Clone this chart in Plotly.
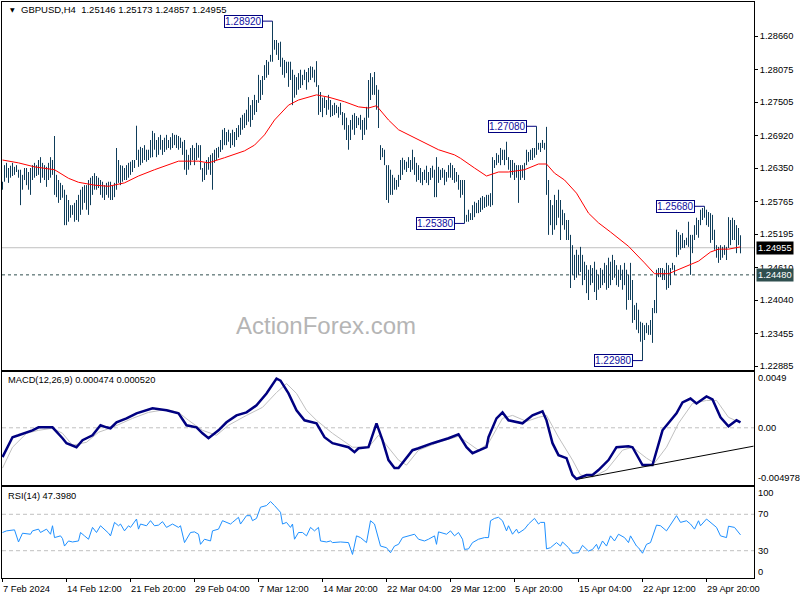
import plotly.graph_objects as go

# ---------------- data ----------------
symbol_title = "GBPUSD,H4  1.25146 1.25173 1.24857 1.24955"
last_bid = 1.24955
level_line = 1.24480

bar_high = [
    1.2611, 1.2640, 1.2644, 1.2635, 1.2639, 1.2644, 1.2637, 1.2640, 1.2632, 1.2632,
    1.2623, 1.2635, 1.2635, 1.2628, 1.2635, 1.2640, 1.2644, 1.2640, 1.2649, 1.2654,
    1.2644, 1.2640, 1.2637, 1.2644, 1.2654, 1.2649, 1.2691, 1.2623, 1.2614, 1.2609,
    1.2605, 1.2597, 1.2588, 1.2579, 1.2570, 1.2570, 1.2574, 1.2579, 1.2588, 1.2597,
    1.2602, 1.2605, 1.2605, 1.2614, 1.2618, 1.2621, 1.2626, 1.2621, 1.2618, 1.2614,
    1.2611, 1.2605, 1.2609, 1.2611, 1.2611, 1.2604, 1.2609, 1.2670, 1.2649, 1.2640,
    1.2639, 1.2635, 1.2640, 1.2644, 1.2646, 1.2649, 1.2649, 1.2709, 1.2667, 1.2672,
    1.2670, 1.2675, 1.2667, 1.2667, 1.2684, 1.2700, 1.2696, 1.2684, 1.2689, 1.2693,
    1.2684, 1.2688, 1.2693, 1.2684, 1.2689, 1.2696, 1.2693, 1.2693, 1.2691, 1.2688,
    1.2681, 1.2684, 1.2667, 1.2658, 1.2670, 1.2675, 1.2670, 1.2679, 1.2675, 1.2675,
    1.2635, 1.2644, 1.2649, 1.2654, 1.2658, 1.2661, 1.2667, 1.2670, 1.2672, 1.2684,
    1.2702, 1.2705, 1.2698, 1.2702, 1.2696, 1.2702, 1.2698, 1.2705, 1.2710, 1.2723,
    1.2728, 1.2731, 1.2737, 1.2759, 1.2745, 1.2754, 1.2763, 1.2754, 1.2798, 1.2789,
    1.2796, 1.2815, 1.2824, 1.2821, 1.2833, 1.2892, 1.2859, 1.2859, 1.2854, 1.2856,
    1.2828, 1.2824, 1.2821, 1.2821, 1.2821, 1.2807, 1.2798, 1.2794, 1.2801, 1.2807,
    1.2798, 1.2807, 1.2803, 1.2810, 1.2813, 1.2812, 1.2807, 1.2822, 1.2780, 1.2768,
    1.2758, 1.2759, 1.2754, 1.2763, 1.2754, 1.2745, 1.2749, 1.2745, 1.2742, 1.2749,
    1.2733, 1.2731, 1.2723, 1.2710, 1.2719, 1.2728, 1.2731, 1.2726, 1.2723, 1.2728,
    1.2719, 1.2723, 1.2742, 1.2789, 1.2801, 1.2794, 1.2803, 1.2780, 1.2772, 1.2675,
    1.2670, 1.2667, 1.2640, 1.2640, 1.2632, 1.2623, 1.2618, 1.2614, 1.2623, 1.2649,
    1.2653, 1.2649, 1.2646, 1.2654, 1.2649, 1.2667, 1.2654, 1.2644, 1.2640, 1.2635,
    1.2628, 1.2632, 1.2639, 1.2628, 1.2635, 1.2639, 1.2632, 1.2654, 1.2637, 1.2632,
    1.2635, 1.2632, 1.2628, 1.2640, 1.2644, 1.2640, 1.2635, 1.2628, 1.2623, 1.2614,
    1.2614, 1.2614, 1.2553, 1.2562, 1.2556, 1.2570, 1.2576, 1.2574, 1.2579, 1.2583,
    1.2586, 1.2584, 1.2588, 1.2588, 1.2591, 1.2654, 1.2649, 1.2661, 1.2658, 1.2670,
    1.2667, 1.2667, 1.2681, 1.2654, 1.2649, 1.2649, 1.2644, 1.2640, 1.2640, 1.2640,
    1.2640, 1.2644, 1.2667, 1.2663, 1.2667, 1.2670, 1.2670, 1.2708, 1.2679, 1.2679,
    1.2684, 1.2679, 1.2707, 1.2614, 1.2579, 1.2570, 1.2588, 1.2579, 1.2597, 1.2579,
    1.2562, 1.2556, 1.2544, 1.2544, 1.2518, 1.2500, 1.2483, 1.2492, 1.2483, 1.2497,
    1.2483, 1.2471, 1.2465, 1.2457, 1.2465, 1.2460, 1.2471, 1.2457, 1.2448, 1.2460,
    1.2457, 1.2469, 1.2465, 1.2478, 1.2471, 1.2483, 1.2474, 1.2465, 1.2457, 1.2465,
    1.2457, 1.2469, 1.2457, 1.2448, 1.2469, 1.2439, 1.2395, 1.2399, 1.2387, 1.2366,
    1.2364, 1.2360, 1.2364, 1.2360, 1.2369, 1.2390, 1.2404, 1.2457, 1.2460, 1.2460,
    1.2460, 1.2457, 1.2469, 1.2465, 1.2460, 1.2469, 1.2465, 1.2527, 1.2523, 1.2518,
    1.2521, 1.2509, 1.2513, 1.2541, 1.2518, 1.2518, 1.2535, 1.2548, 1.2544, 1.2562,
    1.2565, 1.2568, 1.2562, 1.2558, 1.2556, 1.2553, 1.2527, 1.2500, 1.2497, 1.2500,
    1.2497, 1.2500, 1.2497, 1.2549, 1.2544, 1.2548, 1.2544, 1.2535, 1.2530, 1.25173,
]

bar_low = [
    1.2597, 1.2611, 1.2618, 1.2609, 1.2618, 1.2621, 1.2623, 1.2628, 1.2618, 1.2570,
    1.2597, 1.2614, 1.2605, 1.2597, 1.2588, 1.2614, 1.2618, 1.2621, 1.2623, 1.2609,
    1.2618, 1.2614, 1.2602, 1.2614, 1.2618, 1.2623, 1.2588, 1.2584, 1.2574, 1.2579,
    1.2583, 1.2535, 1.2535, 1.2541, 1.2548, 1.2553, 1.2541, 1.2544, 1.2541, 1.2553,
    1.2562, 1.2574, 1.2562, 1.2553, 1.2570, 1.2588, 1.2597, 1.2597, 1.2600, 1.2588,
    1.2583, 1.2579, 1.2588, 1.2583, 1.2579, 1.2579, 1.2584, 1.2597, 1.2609, 1.2605,
    1.2611, 1.2614, 1.2614, 1.2618, 1.2623, 1.2628, 1.2635, 1.2649, 1.2637, 1.2640,
    1.2644, 1.2649, 1.2646, 1.2649, 1.2653, 1.2654, 1.2667, 1.2654, 1.2658, 1.2667,
    1.2658, 1.2663, 1.2667, 1.2670, 1.2667, 1.2670, 1.2675, 1.2670, 1.2667, 1.2670,
    1.2658, 1.2632, 1.2623, 1.2632, 1.2640, 1.2649, 1.2640, 1.2649, 1.2653, 1.2632,
    1.2611, 1.2614, 1.2623, 1.2632, 1.2623, 1.2597, 1.2644, 1.2649, 1.2653, 1.2663,
    1.2667, 1.2675, 1.2675, 1.2681, 1.2670, 1.2675, 1.2672, 1.2684, 1.2689, 1.2693,
    1.2702, 1.2705, 1.2710, 1.2716, 1.2707, 1.2719, 1.2728, 1.2733, 1.2749, 1.2754,
    1.2763, 1.2789, 1.2793, 1.2798, 1.2821, 1.2821, 1.2842, 1.2833, 1.2824, 1.2812,
    1.2798, 1.2793, 1.2801, 1.2777, 1.2789, 1.2745, 1.2758, 1.2763, 1.2772, 1.2775,
    1.2780, 1.2789, 1.2772, 1.2785, 1.2789, 1.2793, 1.2785, 1.2777, 1.2728, 1.2733,
    1.2724, 1.2740, 1.2728, 1.2737, 1.2724, 1.2726, 1.2728, 1.2731, 1.2723, 1.2728,
    1.2710, 1.2702, 1.2684, 1.2667, 1.2684, 1.2702, 1.2693, 1.2705, 1.2710, 1.2702,
    1.2684, 1.2693, 1.2702, 1.2723, 1.2754, 1.2763, 1.2763, 1.2737, 1.2705, 1.2649,
    1.2654, 1.2640, 1.2579, 1.2574, 1.2588, 1.2588, 1.2597, 1.2597, 1.2602, 1.2614,
    1.2623, 1.2632, 1.2628, 1.2635, 1.2628, 1.2632, 1.2623, 1.2611, 1.2614, 1.2609,
    1.2605, 1.2614, 1.2609, 1.2605, 1.2614, 1.2618, 1.2584, 1.2584, 1.2609, 1.2614,
    1.2618, 1.2605, 1.2611, 1.2618, 1.2618, 1.2614, 1.2609, 1.2611, 1.2597, 1.2583,
    1.2588, 1.2538, 1.2541, 1.2541, 1.2544, 1.2544, 1.2549, 1.2556, 1.2556, 1.2558,
    1.2562, 1.2565, 1.2567, 1.2569, 1.2567, 1.2570, 1.2635, 1.2640, 1.2644, 1.2640,
    1.2649, 1.2640, 1.2649, 1.2632, 1.2618, 1.2623, 1.2614, 1.2618, 1.2574, 1.2614,
    1.2618, 1.2614, 1.2640, 1.2646, 1.2649, 1.2649, 1.2653, 1.2658, 1.2667, 1.2663,
    1.2670, 1.2667, 1.2588, 1.2518, 1.2535, 1.2518, 1.2527, 1.2535, 1.2548, 1.2509,
    1.2535, 1.2527, 1.2509, 1.2509, 1.2425, 1.2448, 1.2439, 1.2443, 1.2448, 1.2453,
    1.2430, 1.2439, 1.2416, 1.2404, 1.2430, 1.2434, 1.2418, 1.2404, 1.2422, 1.2425,
    1.2430, 1.2434, 1.2422, 1.2425, 1.2430, 1.2439, 1.2443, 1.2430, 1.2427, 1.2439,
    1.2422, 1.2430, 1.2387, 1.2404, 1.2404, 1.2364, 1.2369, 1.2352, 1.2346, 1.2331,
    1.2298, 1.2334, 1.2346, 1.2343, 1.2343, 1.2329, 1.2381, 1.2381, 1.2444, 1.2444,
    1.2439, 1.2439, 1.2422, 1.2425, 1.2430, 1.2457, 1.2448, 1.2479, 1.2483, 1.2492,
    1.2495, 1.2495, 1.2500, 1.2497, 1.2448, 1.2486, 1.2509, 1.2518, 1.2513, 1.2535,
    1.2544, 1.2548, 1.2535, 1.2532, 1.2504, 1.2509, 1.2492, 1.2478, 1.2469, 1.2474,
    1.2478, 1.2483, 1.2474, 1.2495, 1.2500, 1.2509, 1.2509, 1.2486, 1.2500, 1.24857,
]

# moving average (red line), sampled at bar indices
ma_idx = [0, 8, 16, 26, 33, 38, 46, 53, 61, 68, 76, 83, 88, 98, 103, 111, 121, 126, 131, 136,
          143, 148, 157, 163, 171, 178, 183, 187, 193, 198, 208, 218, 226, 229, 236, 242, 248, 253, 261, 268,
          272, 276, 281, 287, 293, 298, 304, 313, 321, 326, 333, 338, 348, 354, 358, 363, 369]
ma_val = [1.2649, 1.2644, 1.2637, 1.2632, 1.2617, 1.2610, 1.2605, 1.2603, 1.2609, 1.2621,
          1.2632, 1.2640, 1.2647, 1.2647, 1.2644, 1.2653, 1.2665, 1.2675, 1.2693, 1.2719,
          1.2745, 1.2754, 1.2763, 1.2759, 1.2751, 1.2742, 1.2740, 1.2744, 1.2719, 1.2702,
          1.2684, 1.2667, 1.2658, 1.2652, 1.2635, 1.2621, 1.2628, 1.2628, 1.2632, 1.2642,
          1.2642, 1.2626, 1.2614, 1.2591, 1.2556, 1.2539, 1.2523, 1.2498, 1.2469, 1.2450,
          1.2450, 1.2457, 1.2472, 1.2488, 1.2493, 1.2493, 1.2497]

# MACD(12,26,9) main line
macd_idx = [0, 5, 8, 15, 18, 25, 30, 32, 37, 40, 45, 49, 52, 54, 57, 62, 67, 75, 82, 88,
            92, 97, 100, 103, 108, 112, 117, 122, 127, 132, 137, 139, 143, 147, 151, 157, 161, 165, 173, 176,
            178, 183, 187, 190, 193, 196, 198, 205, 208, 215, 223, 228, 232, 235, 242, 243, 247, 250, 253, 260,
            265, 270, 272, 275, 278, 282, 285, 287, 292, 295, 298, 303, 307, 313, 315, 320, 325, 330, 337, 340,
            344, 347, 352, 355, 359, 363, 367, 369]
macd_val = [-0.00255, -0.00082, -0.00065, -0.00022, 0.00004, 0.00004, -0.00091, -0.00134, -0.00169, -0.00108,
            -0.00065, 0.00022, 0.00004, -0.00004, 0.00048, 0.00082, 0.00126, 0.00169, 0.00152, 0.00126,
            0.00022, 0.00004, -0.00048, -0.00091, -0.00022, 0.00048, 0.00108, 0.00134, 0.00195, 0.00299,
            0.00429, 0.00411, 0.00299, 0.00152, 0.00065, 0.00039, -0.00082, -0.00134, -0.00169, -0.00212,
            -0.00178, -0.00169, 0.00039, -0.00108, -0.00281, -0.00351, -0.00351, -0.00195, -0.00178, -0.00134,
            -0.00091, -0.00056, -0.00169, -0.00221, -0.00169, -0.00082, 0.00082, 0.00134, 0.00065, 0.00039,
            0.00108, 0.00143, 0.00065, -0.00134, -0.00238, -0.00264, -0.00411, -0.00446, -0.00411, -0.00411,
            -0.00368, -0.00281, -0.00169, -0.00160, -0.00169, -0.00325, -0.00325, -0.00022, 0.00126, 0.00221,
            0.00255, 0.00212, 0.00273, 0.00247, 0.00091, 0.00013, 0.00065, 0.000474]

# MACD signal line
sig_idx = [0, 5, 12, 18, 25, 30, 35, 42, 48, 55, 65, 73, 82, 88, 93, 100, 107, 113, 122, 130,
           137, 142, 147, 152, 157, 165, 175, 183, 188, 193, 198, 202, 208, 218, 228, 233, 238, 243, 250, 255,
           262, 268, 272, 278, 285, 289, 295, 302, 310, 315, 322, 326, 332, 338, 345, 352, 357, 363, 368]
sig_val = [-0.00351, -0.00169, -0.00048, -0.00022, -0.00004, -0.00048, -0.00152, -0.00126, -0.00039, 0.00004,
           0.00082, 0.00134, 0.00160, 0.00134, 0.00065, -0.00022, -0.00065, 0.00022, 0.00108, 0.00178,
           0.00307, 0.00385, 0.00299, 0.00152, 0.00065, -0.00048, -0.00169, -0.00169, -0.00065, -0.00169,
           -0.00281, -0.00325, -0.00195, -0.00126, -0.00074, -0.00134, -0.00195, -0.00134, 0.00082, 0.00108,
           0.00056, 0.00091, 0.00108, -0.00082, -0.00281, -0.00411, -0.00429, -0.00368, -0.00195, -0.00169,
           -0.00264, -0.00307, -0.00169, 0.00039, 0.00212, 0.00238, 0.00238, 0.00091, 0.00052]

# trendline drawn on the MACD window
trend_idx = [288, 375.5]
trend_val = [-0.00446, -0.00160]

# RSI(14)
rsi_idx = [0, 2, 6, 8, 10, 14, 15, 18, 19, 22, 24, 25, 26, 29, 30, 31, 33, 35, 38, 39,
           41, 43, 45, 47, 49, 50, 53, 54, 56, 58, 59, 61, 63, 64, 67, 68, 69, 72, 74, 76,
           78, 80, 82, 85, 88, 89, 91, 94, 96, 98, 99, 101, 104, 105, 108, 110, 114, 115, 118, 119,
           122, 124, 125, 127, 129, 132, 134, 136, 139, 140, 142, 144, 145, 146, 148, 150, 152, 154, 156, 158,
           159, 162, 164, 165, 169, 173, 174, 175, 177, 179, 182, 184, 186, 188, 189, 192, 194, 196, 198, 200,
           203, 206, 208, 211, 213, 216, 217, 218, 222, 224, 226, 228, 230, 231, 233, 235, 238, 241, 243, 244,
           246, 248, 250, 252, 253, 255, 257, 258, 261, 263, 266, 268, 269, 271, 272, 274, 277, 279, 280, 283,
           285, 288, 290, 293, 295, 297, 298, 300, 302, 304, 306, 308, 311, 313, 314, 317, 318, 320, 322, 324,
           327, 329, 332, 335, 337, 339, 342, 344, 346, 348, 349, 352, 354, 357, 359, 362, 363, 366, 369]
rsi_val = [50.0, 51.8, 52.9, 39.6, 49.2, 48.1, 51.8, 53.7, 50.0, 53.7,
           48.1, 57.4, 44.4, 46.3, 43.3, 35.1, 40.7, 39.6, 40.7, 50.0,
           46.3, 42.6, 55.6, 50.0, 57.4, 55.6, 49.3, 46.3, 61.1, 57.4,
           59.3, 51.8, 57.4, 55.6, 64.8, 53.7, 59.3, 57.4, 63.0, 57.4,
           58.1, 61.9, 55.6, 59.3, 55.6, 57.4, 38.9, 50.0, 50.7, 48.1,
           37.0, 42.6, 40.7, 51.8, 53.7, 63.0, 59.3, 61.1, 66.7, 59.3,
           68.5, 68.5, 63.0, 65.5, 77.8, 79.6, 84.0, 79.6, 72.2, 59.3,
           61.1, 55.6, 59.3, 42.6, 50.0, 50.0, 46.3, 55.6, 51.8, 55.6,
           40.7, 39.6, 40.7, 38.9, 39.6, 38.9, 31.4, 25.9, 46.3, 44.4,
           38.9, 62.9, 59.3, 42.6, 35.1, 33.3, 27.8, 35.1, 37.0, 44.4,
           46.3, 48.1, 42.6, 40.7, 42.6, 46.3, 37.0, 50.7, 48.1, 51.8,
           46.3, 50.0, 42.6, 31.4, 32.0, 38.9, 42.6, 44.4, 44.4, 62.9,
           65.5, 66.7, 62.9, 51.8, 57.4, 48.1, 53.7, 49.3, 53.7, 59.3,
           65.5, 59.3, 61.1, 61.1, 32.0, 33.3, 38.9, 35.1, 39.6, 33.3,
           27.2, 27.8, 35.9, 29.6, 31.4, 37.0, 31.4, 40.7, 35.1, 46.3,
           40.7, 48.1, 44.4, 38.9, 46.3, 35.1, 33.3, 27.2, 37.0, 38.9,
           58.1, 57.4, 51.8, 61.1, 68.5, 61.1, 62.9, 59.3, 53.7, 62.9,
           57.4, 64.8, 61.1, 55.6, 46.3, 44.4, 56.9, 55.6, 47.4]

# swing high / low labels
pivot_idx = [135, 267, 231, 351, 320]
pivot_val = [1.2892, 1.2708, 1.2538, 1.2568, 1.2298]

# axis labels
price_ticks = [1.28660, 1.28075, 1.27505, 1.26920, 1.26350, 1.25765, 1.25195,
               1.24610, 1.24040, 1.23455, 1.22885]
time_idx = [0, 32, 64, 96, 128, 160, 192, 224, 256, 288, 320, 352]
time_labels = ["7 Feb 2024", "14 Feb 12:00", "21 Feb 20:00", "29 Feb 04:00", "7 Mar 12:00",
               "14 Mar 20:00", "22 Mar 04:00", "29 Mar 12:00", "5 Apr 20:00", "15 Apr 04:00",
               "22 Apr 12:00", "29 Apr 20:00"]
macd_labels = [(0.0049, "0.0049"), (0.0, "0.00"), (-0.004978, "-0.004978")]
rsi_labels = [(100, "100"), (70, "70"), (30, "30"), (0, "0")]

# ---------------- figure ----------------
FONT = "Liberation Sans"
FS = 9.3
BAR_COLOR = "#0f3d5a"
NAVY = "#000080"

fig = go.Figure()

bx, by = [], []
for i, (h, l) in enumerate(zip(bar_high, bar_low)):
    bx += [i, i, None]
    by += [l, h, None]
fig.add_trace(go.Scatter(x=bx, y=by, mode="lines", line=dict(color=BAR_COLOR, width=1),
                         xaxis="x", yaxis="y", hoverinfo="skip"))
fig.add_trace(go.Scatter(x=ma_idx, y=ma_val, mode="lines", line=dict(color="#ff0000", width=1),
                         xaxis="x", yaxis="y"))

fig.add_trace(go.Scatter(x=sig_idx, y=sig_val, mode="lines", line=dict(color="#c0c0c0", width=1),
                         xaxis="x2", yaxis="y2"))
fig.add_trace(go.Scatter(x=macd_idx, y=macd_val, mode="lines", line=dict(color=NAVY, width=2.5),
                         xaxis="x2", yaxis="y2"))
fig.add_trace(go.Scatter(x=trend_idx, y=trend_val, mode="lines", line=dict(color="black", width=1),
                         xaxis="x2", yaxis="y2"))

fig.add_trace(go.Scatter(x=rsi_idx, y=rsi_val, mode="lines", line=dict(color="#1e90ff", width=1),
                         xaxis="x3", yaxis="y3"))

XR = [-0.25, 375.75]
frame = dict(showline=True, mirror=True, linecolor="black", linewidth=1, showgrid=False, zeroline=False)

fig.update_layout(
    width=800, height=600,
    margin=dict(l=2, r=46, t=2, b=22),
    plot_bgcolor="white", paper_bgcolor="white",
    showlegend=False,
    font=dict(family=FONT, size=FS, color="black"),
    xaxis=dict(domain=[0, 1], range=XR, anchor="y", showticklabels=False, ticks="", **frame),
    xaxis2=dict(domain=[0, 1], range=XR, anchor="y2", matches="x", showticklabels=False, ticks="", **frame),
    xaxis3=dict(domain=[0, 1], range=XR, anchor="y3", matches="x", showticklabels=False,
                ticks="outside", tickvals=time_idx, ticklen=3, tickcolor="black", **frame),
    yaxis=dict(domain=[0.3611, 1.0], range=[1.22815, 1.29255], side="right",
               tickvals=price_ticks, ticktext=["%.5f" % v for v in price_ticks],
               ticks="outside", ticklen=3, tickcolor="black",
               tickfont=dict(family=FONT, size=FS, color="black"), **frame),
    yaxis2=dict(domain=[0.1615, 0.3585], range=[-0.004978, 0.0049], side="right",
                showticklabels=False, ticks="", **frame),
    yaxis3=dict(domain=[0.0, 0.158], range=[0, 100], side="right",
                showticklabels=False, ticks="", **frame),
)

shapes = []
# bid line and support level
shapes.append(dict(type="line", xref="x domain", yref="y", x0=0, x1=1, y0=last_bid, y1=last_bid,
                   line=dict(color="#c0c0c0", width=1), layer="below"))
shapes.append(dict(type="line", xref="x domain", yref="y", x0=0, x1=1, y0=level_line, y1=level_line,
                   line=dict(color="#2f4f4f", width=1, dash="3px,3px"), layer="below"))
# macd zero, rsi levels
shapes.append(dict(type="line", xref="x2 domain", yref="y2", x0=0, x1=1, y0=0, y1=0,
                   line=dict(color="#c0c0c0", width=1, dash="4px,3px"), layer="below"))
for lv in (70, 30):
    shapes.append(dict(type="line", xref="x3 domain", yref="y3", x0=0, x1=1, y0=lv, y1=lv,
                       line=dict(color="#c0c0c0", width=1, dash="4px,3px"), layer="below"))

annotations = []
# pivot labels with connectors
for idx, val in zip(pivot_idx, pivot_val):
    shapes.append(dict(type="line", xref="x", yref="y", x0=idx - 5, x1=idx, y0=val, y1=val,
                       line=dict(color=NAVY, width=1)))
    annotations.append(dict(x=idx - 5, y=val, xref="x", yref="y", xanchor="right", yanchor="middle",
                            text="%.5f" % val, showarrow=False, bgcolor="white",
                            bordercolor=NAVY, borderwidth=1, borderpad=0,
                            font=dict(family=FONT, size=FS + 0.7, color="#1010a0")))

# price tags on the right scale
annotations.append(dict(x=1, y=last_bid, xref="paper", yref="y", xanchor="left", yanchor="middle",
                        xshift=2, text="%.5f" % last_bid, showarrow=False, bgcolor="black",
                        borderpad=1, font=dict(family=FONT, size=FS, color="white")))
annotations.append(dict(x=1, y=level_line, xref="paper", yref="y", xanchor="left", yanchor="middle",
                        xshift=2, text="%.5f" % level_line, showarrow=False, bgcolor="#2f4f4f",
                        borderpad=1, font=dict(family=FONT, size=FS, color="white")))

# MACD / RSI scale labels
for v, t in macd_labels:
    ys = -6 if v > 0 else (7 if v < 0 else 0)
    annotations.append(dict(x=1, y=v, xref="paper", yref="y2", xanchor="left", yanchor="middle",
                            xshift=2, yshift=ys, text=t, showarrow=False,
                            font=dict(family=FONT, size=FS, color="black")))
for v, t in rsi_labels:
    ys = -6 if v == 100 else (6 if v == 0 else 0)
    annotations.append(dict(x=1, y=v, xref="paper", yref="y3", xanchor="left", yanchor="middle",
                            xshift=2, yshift=ys, text=t, showarrow=False,
                            font=dict(family=FONT, size=FS, color="black")))

# time labels
for idx, t in zip(time_idx, time_labels):
    annotations.append(dict(x=idx, y=-0.019, xref="x3", yref="paper", xanchor="left", yanchor="middle",
                            xshift=-2, text=t, showarrow=False,
                            font=dict(family=FONT, size=FS, color="black")))

# titles
annotations.append(dict(x=0.0075, y=0.9865, xref="paper", yref="paper", xanchor="left", yanchor="middle",
                        text="▼", showarrow=False, font=dict(family="DejaVu Sans", size=6, color="black")))
annotations.append(dict(x=0.0225, y=0.9865, xref="paper", yref="paper", xanchor="left", yanchor="middle",
                        text=symbol_title, showarrow=False, font=dict(family=FONT, size=FS + 0.2, color="black")))
annotations.append(dict(x=0.0053, y=0.344, xref="paper", yref="paper", xanchor="left", yanchor="middle",
                        text="MACD(12,26,9) 0.000474 0.000520", showarrow=False,
                        font=dict(family=FONT, size=FS, color="black")))
annotations.append(dict(x=0.0053, y=0.142, xref="paper", yref="paper", xanchor="left", yanchor="middle",
                        text="RSI(14) 47.3980", showarrow=False,
                        font=dict(family=FONT, size=FS, color="black")))
# watermark
annotations.append(dict(x=0.431, y=0.439, xref="paper", yref="paper", xanchor="center", yanchor="middle",
                        text="ActionForex.com", showarrow=False,
                        font=dict(family=FONT, size=24, color="#b5b5b5")))

fig.update_layout(shapes=shapes, annotations=annotations)
fig.write_html("out.html", config={"displayModeBar": False},
               post_script="document.body.style.margin='0';document.body.style.padding='0';")
